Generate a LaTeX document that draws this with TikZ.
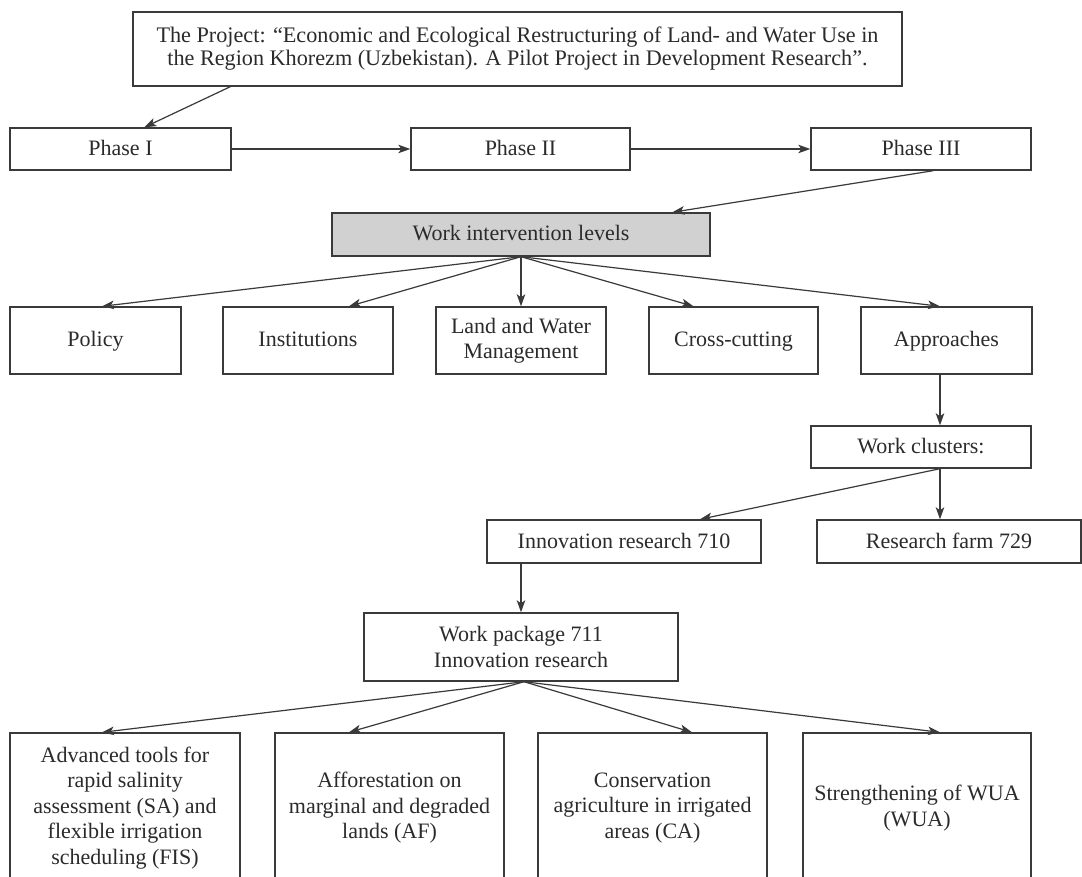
\documentclass[tikz,border=0pt]{standalone}
\usepackage{fontspec}
\setmainfont{Liberation Serif}
\usetikzlibrary{arrows.meta}
\definecolor{ink}{HTML}{2B2B2B}
\definecolor{edge}{HTML}{3A3A3A}
\definecolor{shade}{HTML}{D1D1D1}
\begin{document}
\begin{tikzpicture}[x=1pt,y=-1pt,
  box/.style={draw=edge,line width=1.4pt,text=ink,align=center,inner sep=0pt,
    font=\fontsize{22}{25.5}\selectfont},
  oneline/.style={text height=16.5pt,text depth=3.5pt},
  phasebox/.style={box,oneline,minimum width=220pt,minimum height=42pt},
  levelbox/.style={box,minimum width=170pt,minimum height=67pt},
  topicbox/.style={box,minimum width=230pt,minimum height=150pt},
  link/.style={draw=edge,line width=1.2pt,-{Stealth[length=12pt,width=8.5pt,inset=3pt]}}]
\clip (0,0) rectangle (1082,877);
\fill[white] (0,0) rectangle (1082,877);

% project and phases
\node[box,minimum width=769pt,minimum height=74pt,font=\fontsize{22.2}{23}\selectfont]
  (proj) at (517.5,49)
  {The Project: “Economic and Ecological Restructuring of Land- and Water Use in\\
   the Region Khorezm (Uzbekistan). A Pilot Project in Development Research”.};
\node[phasebox,minimum width=221pt] (ph1) at (120.5,149) {Phase I};
\node[phasebox,minimum width=219pt] (ph2) at (520.5,149) {Phase II};
\node[phasebox] (ph3) at (921,149) {Phase III};

% intervention levels
\node[box,oneline,fill=shade,minimum width=378pt,minimum height=43pt] (wil) at (521,234.5) {Work intervention levels};
\node[levelbox,oneline,minimum width=171pt] (policy) at (95.5,340.5) {Policy};
\node[levelbox,oneline] (inst) at (308,340.5) {Institutions};
\node[levelbox] (lwm) at (521,340.5) {Land and Water\\Management};
\node[levelbox,oneline,minimum width=169pt] (cross) at (733.5,340.5) {Cross-cutting};
\node[levelbox,oneline,minimum width=171pt] (appr) at (946.5,340.5) {Approaches};

% work clusters
\node[phasebox] (wc) at (921,447) {Work clusters:};
\node[box,oneline,minimum width=274pt,minimum height=43pt] (ir) at (624,541.5) {Innovation research 710};
\node[box,oneline,minimum width=264pt,minimum height=43pt] (rf) at (949,541.5) {Research farm 729};
\node[box,minimum width=314pt,minimum height=68pt] (wp) at (521,647) {Work package 711\\Innovation research};

% research topics
\node[topicbox] (sa) at (125,808) {Advanced tools for\\rapid salinity\\assessment (SA) and\\flexible irrigation\\scheduling (FIS)};
\node[topicbox,minimum width=229pt] (af) at (389.5,808) {Afforestation on\\marginal and degraded\\lands (AF)};
\node[topicbox,minimum width=229pt] (ca) at (652.5,808) {Conservation\\agriculture in irrigated\\areas (CA)};
\node[topicbox,minimum width=228pt] (wua) at (917,808) {Strengthening of WUA\\(WUA)};

% connectors
\draw[link] ([xshift=98pt]proj.south west) -- ([xshift=135pt]ph1.north west);
\draw[link] (ph1.east) -- (ph2.west);
\draw[link] (ph2.east) -- (ph3.west);
\draw[link] ([xshift=123pt]ph3.south west) -- ([xshift=341pt]wil.north west);

\draw[link] (wil.south) -- ([xshift=6.5pt]policy.north);
\draw[link] (wil.south) -- ([xshift=41pt]inst.north);
\draw[link] (wil.south) -- (lwm.north);
\draw[link] (wil.south) -- ([xshift=-40pt]cross.north);
\draw[link] (wil.south) -- ([xshift=-6.5pt]appr.north);

\draw[link] ([xshift=-6.5pt]appr.south) -- ([xshift=19pt]wc.north);
\draw[link] ([xshift=19pt]wc.south) -- ([xshift=76pt]ir.north);
\draw[link] ([xshift=19pt]wc.south) -- ([xshift=-9pt]rf.north);
\draw[link] ([xshift=-103pt]ir.south) -- (wp.north);

\draw[link] ([xshift=3pt]wp.south) -- ([xshift=-23pt]sa.north);
\draw[link] ([xshift=3pt]wp.south) -- ([xshift=-40.5pt]af.north);
\draw[link] ([xshift=3pt]wp.south) -- ([xshift=39.5pt]ca.north);
\draw[link] ([xshift=3pt]wp.south) -- ([xshift=23pt]wua.north);
\end{tikzpicture}
\end{document}
